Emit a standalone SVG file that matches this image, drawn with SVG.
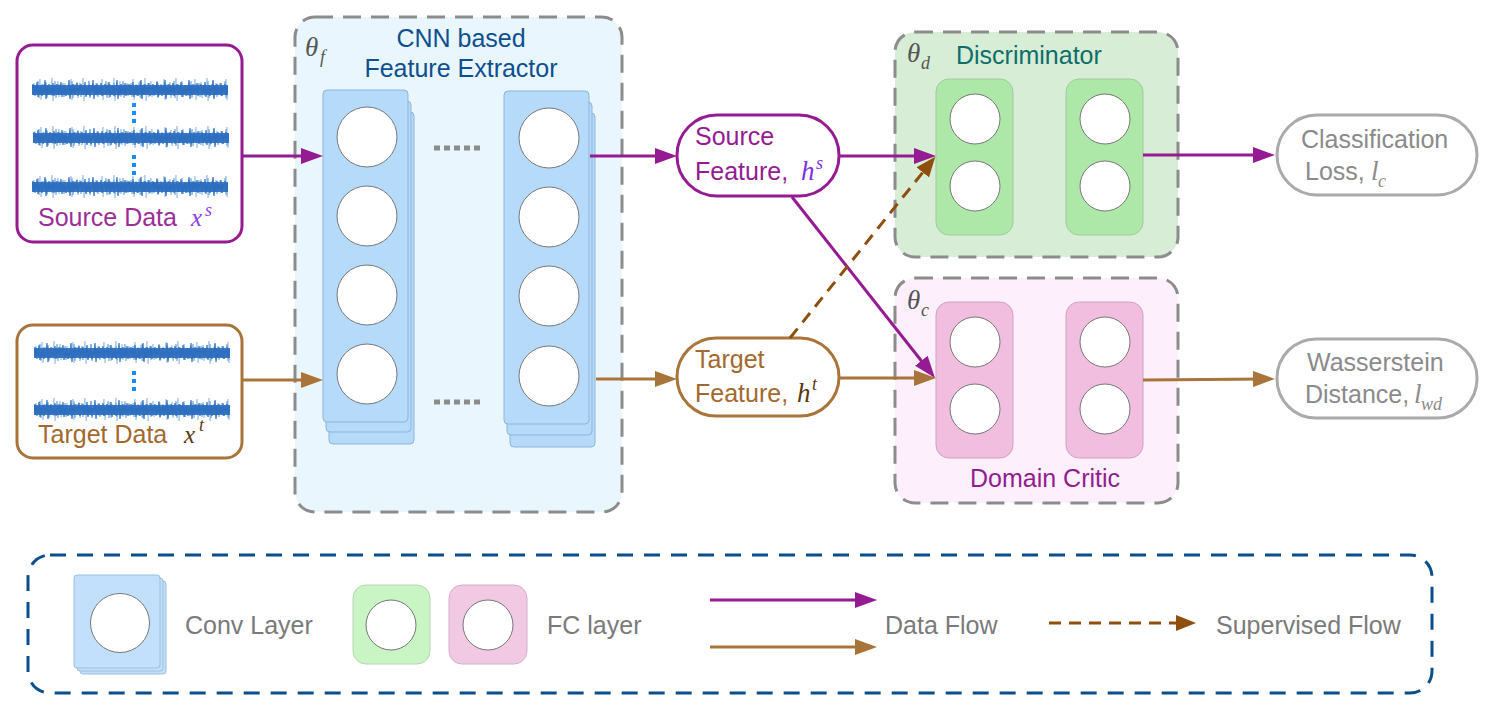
<svg xmlns="http://www.w3.org/2000/svg" xmlns:xlink="http://www.w3.org/1999/xlink" width="1495" height="712" viewBox="0 0 1495 712">
<style>
.sans{font-family:"Liberation Sans",Arial,Helvetica,sans-serif;font-size:25px}
.math{font-family:"Liberation Serif","DejaVu Serif",serif;font-style:italic}
.dash{fill:none;stroke:#8C8C8C;stroke-width:3;stroke-dasharray:18 10}
.conv{fill:#B6DBFA;stroke:#8CB3D9;stroke-width:1}
.cir{fill:#fff;stroke:#777;stroke-width:1}
.fcg{fill:#AEE8A8;stroke:#A3C8A0;stroke-width:1}
.fcp{fill:#F1BEE0;stroke:#C9A5BE;stroke-width:1}
.pur{fill:none;stroke:#951B93;stroke-width:3}
.brn{fill:none;stroke:#A97439;stroke-width:3}
.sup{fill:none;stroke:#8F4F0C;stroke-width:3;stroke-dasharray:12 8}
.dots{stroke:#1A8CFF;stroke-width:4;stroke-dasharray:4 4}
.grey{fill:#8A8A8A}
.leg{fill:#7A7A7A}
</style>
<defs>
<marker id="ap" markerUnits="userSpaceOnUse" viewBox="0 0 22 16" markerWidth="22" markerHeight="16" refX="12" refY="8" orient="auto"><path d="M0,0 L22,8 L0,16 z" fill="#951B93"/></marker>
<marker id="ab" markerUnits="userSpaceOnUse" viewBox="0 0 22 16" markerWidth="22" markerHeight="16" refX="12" refY="8" orient="auto"><path d="M0,0 L22,8 L0,16 z" fill="#A97439"/></marker>
<marker id="ad" markerUnits="userSpaceOnUse" viewBox="0 0 20 16" markerWidth="20" markerHeight="16" refX="10" refY="8" orient="auto"><path d="M0,0 L20,8 L0,16 z" fill="#8F4F0C"/></marker>
<pattern id="sigA" patternUnits="userSpaceOnUse" width="24" height="28"><polyline fill="none" stroke="#2F6FC0" stroke-width="1.3" points="0,14 1,8 2,19 3,10 4,17 5,6 6,21 7,11 8,18 9,9 10,20 11,12 12,16 13,4 14,23 15,10 16,19 17,8 18,18 19,11 20,17 21,7 22,20 23,11 24,14"/></pattern>
<pattern id="sigB" patternUnits="userSpaceOnUse" width="17" height="28"><polyline fill="none" stroke="#6FA3DD" stroke-width="1.2" points="0,14 1,18 2,9 3,20 4,11 5,17 6,5 7,22 8,12 9,16 10,8 11,19 12,10 13,18 14,7 15,21 16,11 17,14"/></pattern>
<pattern id="sigC" patternUnits="userSpaceOnUse" width="31" height="28"><polyline fill="none" stroke="#9CC2EA" stroke-width="1" points="0,14 2,7 3,20 5,9 6,19 8,3 9,24 11,8 12,18 14,6 15,22 17,9 18,17 20,2 21,25 23,10 24,19 26,5 27,21 29,9 31,14"/></pattern>
<symbol id="sig" width="196" height="28" overflow="visible">
<rect x="0" y="0" width="196" height="28" fill="url(#sigC)" opacity="0.9"/>
<rect x="0" y="0" width="196" height="28" fill="url(#sigB)" opacity="0.9"/>
<rect x="0" y="0" width="196" height="28" fill="url(#sigA)" opacity="0.9"/>
<rect x="0" y="9" width="196" height="10" fill="#2E6EBF" opacity="0.9"/>
</symbol>
</defs>
<rect width="1495" height="712" fill="#fff"/>

<!-- Feature extractor -->
<g id="feature-extractor">
<rect x="295" y="17" width="327" height="495" rx="20" fill="#EAF6FD"/>
<rect x="295" y="17" width="327" height="495" rx="20" class="dash"/>
<text x="305" y="56" class="math" font-size="27" fill="#555">θ</text>
<text x="320" y="63" class="math" font-size="18" fill="#555">f</text>
<text x="461" y="47" class="sans" text-anchor="middle" fill="#0E4F8F">CNN based</text>
<text x="461" y="77" class="sans" text-anchor="middle" fill="#0E4F8F">Feature Extractor</text>
<g id="conv1">
<rect x="329" y="112" width="85" height="332" rx="4" class="conv"/>
<rect x="326" y="101" width="85" height="331" rx="4" class="conv"/>
<rect x="323" y="90" width="85" height="332" rx="4" class="conv"/>
<circle cx="367" cy="137" r="30" class="cir"/>
<circle cx="367" cy="216" r="30" class="cir"/>
<circle cx="367" cy="295" r="30" class="cir"/>
<circle cx="367" cy="374" r="30" class="cir"/>
</g>
<g id="conv2">
<rect x="510" y="113" width="85" height="334" rx="4" class="conv"/>
<rect x="507" y="102" width="85" height="333" rx="4" class="conv"/>
<rect x="504" y="91" width="85" height="333" rx="4" class="conv"/>
<circle cx="549" cy="138" r="30" class="cir"/>
<circle cx="549" cy="217" r="30" class="cir"/>
<circle cx="549" cy="296" r="30" class="cir"/>
<circle cx="549" cy="376" r="30" class="cir"/>
</g>
<line x1="434" y1="148" x2="484" y2="148" stroke="#8C8C8C" stroke-width="5" stroke-dasharray="6 4"/>
<line x1="434" y1="402" x2="484" y2="402" stroke="#8C8C8C" stroke-width="5" stroke-dasharray="6 4"/>
</g>

<!-- Source data -->
<g id="source-data">
<rect x="17" y="45" width="225" height="197" rx="16" fill="#fff" stroke="#951B93" stroke-width="3"/>
<use xlink:href="#sig" x="32" y="76"/>
<use xlink:href="#sig" x="33" y="124"/>
<use xlink:href="#sig" x="32" y="173"/>
<line x1="134" y1="103" x2="134" y2="127" class="dots"/>
<line x1="134" y1="155" x2="134" y2="179" class="dots"/>
<text x="38" y="226" class="sans" fill="#9C2E9A">Source Data</text>
<text x="191" y="226" class="math" font-size="25" fill="#8B3FEF">x</text>
<text x="205" y="216" class="math" font-size="18" fill="#8B3FEF">s</text>
</g>

<!-- Target data -->
<g id="target-data">
<rect x="17" y="325" width="225" height="133" rx="16" fill="#fff" stroke="#A97439" stroke-width="3"/>
<use xlink:href="#sig" x="34" y="339"/>
<use xlink:href="#sig" x="34" y="396"/>
<line x1="134" y1="371" x2="134" y2="395" class="dots"/>
<text x="38" y="443" class="sans" fill="#A3692F">Target Data</text>
<text x="184" y="443" class="math" font-size="25" fill="#5E3A10">x</text>
<text x="199" y="431" class="math" font-size="18" fill="#5E3A10">t</text>
</g>

<!-- Source feature -->
<g id="source-feature">
<rect x="677" y="115" width="162" height="81" rx="40" fill="#fff" stroke="#951B93" stroke-width="3"/>
<text x="695" y="145" class="sans" fill="#951B93">Source</text>
<text x="695" y="180" class="sans" fill="#951B93">Feature,</text>
<text x="801" y="180" class="math" font-size="27" fill="#7A2FE8">h</text>
<text x="816" y="169" class="math" font-size="18" fill="#7A2FE8">s</text>
</g>

<!-- Target feature -->
<g id="target-feature">
<rect x="677" y="338" width="162" height="78" rx="39" fill="#fff" stroke="#A97439" stroke-width="3"/>
<text x="695" y="368" class="sans" fill="#A3692F">Target</text>
<text x="695" y="402" class="sans" fill="#A3692F">Feature,</text>
<text x="797" y="402" class="math" font-size="27" fill="#5A370F">h</text>
<text x="812" y="390" class="math" font-size="18" fill="#5A370F">t</text>
</g>

<!-- Discriminator -->
<g id="discriminator">
<rect x="895" y="32" width="283" height="225" rx="20" fill="#D7EDD6"/>
<rect x="895" y="32" width="283" height="225" rx="20" class="dash"/>
<text x="907" y="62" class="math" font-size="27" fill="#555">θ</text>
<text x="921" y="69" class="math" font-size="18" fill="#555">d</text>
<text x="956" y="64" class="sans" fill="#0E6E6A">Discriminator</text>
<rect x="936" y="79" width="77" height="156" rx="13" class="fcg"/>
<circle cx="975" cy="119" r="25" class="cir"/>
<circle cx="975" cy="186" r="25" class="cir"/>
<rect x="1066" y="79" width="77" height="156" rx="13" class="fcg"/>
<circle cx="1105" cy="119" r="25" class="cir"/>
<circle cx="1105" cy="186" r="25" class="cir"/>
</g>

<!-- Domain critic -->
<g id="domain-critic">
<rect x="895" y="278" width="283" height="225" rx="20" fill="#FDEFFC"/>
<rect x="895" y="278" width="283" height="225" rx="20" class="dash"/>
<text x="907" y="309" class="math" font-size="27" fill="#555">θ</text>
<text x="921" y="316" class="math" font-size="18" fill="#555">c</text>
<rect x="936" y="302" width="77" height="156" rx="13" class="fcp"/>
<circle cx="975" cy="342" r="25" class="cir"/>
<circle cx="975" cy="409" r="25" class="cir"/>
<rect x="1066" y="302" width="77" height="156" rx="13" class="fcp"/>
<circle cx="1105" cy="342" r="25" class="cir"/>
<circle cx="1105" cy="409" r="25" class="cir"/>
<text x="1045" y="487" class="sans" text-anchor="middle" fill="#911E8F">Domain Critic</text>
</g>

<!-- Classification loss -->
<g id="classification-loss">
<rect x="1277" y="115" width="200" height="80" rx="40" fill="#fff" stroke="#AAAAAA" stroke-width="3"/>
<text x="1301" y="148" class="sans grey">Classification</text>
<text x="1305" y="180" class="sans grey">Loss,</text>
<text x="1371" y="180" class="math grey" font-size="27">l</text>
<text x="1378" y="187" class="math grey" font-size="18">c</text>
</g>

<!-- Wasserstein distance -->
<g id="wasserstein-distance">
<rect x="1277" y="339" width="200" height="79" rx="39" fill="#fff" stroke="#AAAAAA" stroke-width="3"/>
<text x="1307" y="371" class="sans grey">Wasserstein</text>
<text x="1305" y="403" class="sans grey">Distance,</text>
<text x="1414" y="403" class="math grey" font-size="27">l</text>
<text x="1421" y="410" class="math grey" font-size="18">wd</text>
</g>

<!-- Connectors -->
<g id="connectors">
<line x1="242" y1="156" x2="313" y2="156" class="pur" marker-end="url(#ap)"/>
<line x1="242" y1="380" x2="313" y2="380" class="brn" marker-end="url(#ab)"/>
<line x1="590" y1="156" x2="667" y2="156" class="pur" marker-end="url(#ap)"/>
<line x1="596" y1="379" x2="667" y2="379" class="brn" marker-end="url(#ab)"/>
<line x1="839" y1="156" x2="926" y2="156" class="pur" marker-end="url(#ap)"/>
<line x1="839" y1="378" x2="926" y2="378" class="brn" marker-end="url(#ab)"/>
<line x1="792" y1="197" x2="928.8" y2="370.2" class="pur" marker-end="url(#ap)"/>
<line x1="790" y1="338" x2="929" y2="164.6" class="sup" marker-end="url(#ad)"/>
<line x1="1143" y1="155" x2="1265" y2="155" class="pur" marker-end="url(#ap)"/>
<line x1="1143" y1="380" x2="1265" y2="379" class="brn" marker-end="url(#ab)"/>
</g>

<!-- Legend -->
<g id="legend">
<rect x="28" y="555" width="1404" height="138" rx="22" fill="none" stroke="#0B4E8C" stroke-width="3" stroke-dasharray="16 11"/>
<g id="legend-conv">
<rect x="80" y="581" width="86" height="93" rx="3" fill="#C2E0FB" stroke="#9CBEDD" stroke-width="1"/>
<rect x="77" y="578" width="86" height="93" rx="3" fill="#C2E0FB" stroke="#9CBEDD" stroke-width="1"/>
<rect x="74" y="575" width="86" height="93" rx="3" fill="#C2E0FB" stroke="#9CBEDD" stroke-width="1"/>
<circle cx="120" cy="623" r="29.5" class="cir"/>
</g>
<text x="185" y="634" class="sans leg">Conv Layer</text>
<g id="legend-fc">
<rect x="353" y="585" width="77" height="79" rx="13" fill="#C9F5C5" stroke="#B5D6B2" stroke-width="1"/>
<circle cx="391" cy="625" r="25" class="cir"/>
<rect x="449" y="585" width="78" height="79" rx="13" fill="#F2C9E3" stroke="#D3B0C8" stroke-width="1"/>
<circle cx="488" cy="625" r="25" class="cir"/>
</g>
<text x="547" y="634" class="sans leg">FC layer</text>
<line x1="710" y1="600" x2="867" y2="600" class="pur" marker-end="url(#ap)"/>
<line x1="710" y1="647" x2="867" y2="647" class="brn" marker-end="url(#ab)"/>
<text x="885" y="634" class="sans leg">Data Flow</text>
<line x1="1049" y1="623" x2="1186" y2="623" class="sup" stroke-dasharray="10 7" marker-end="url(#ad)"/>
<text x="1216" y="634" class="sans leg">Supervised Flow</text>
</g>
</svg>
